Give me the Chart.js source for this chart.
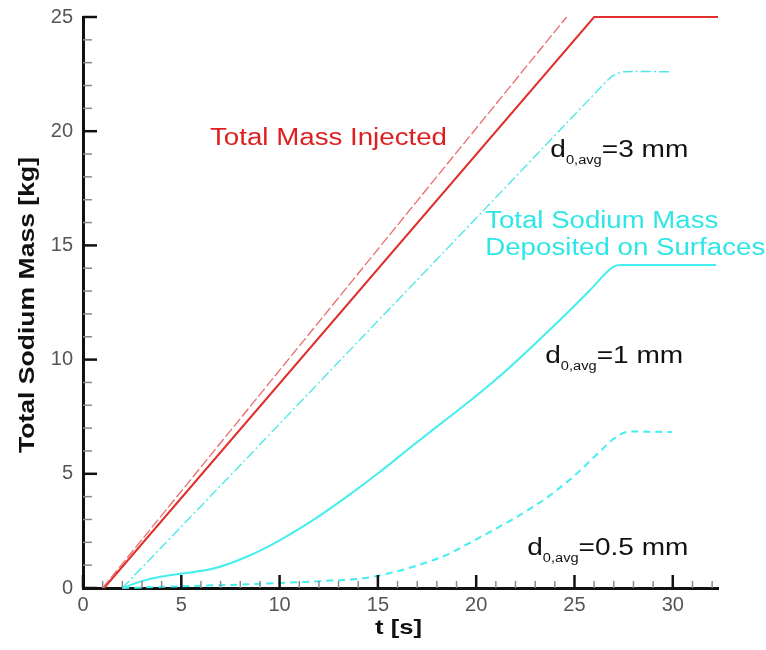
<!DOCTYPE html>
<html><head><meta charset="utf-8">
<script src="https://cdn.jsdelivr.net/npm/chart.js@4.4.1/dist/chart.umd.min.js"></script>
<style>html,body{margin:0;padding:0;background:#fff;overflow:hidden}canvas{display:block}</style>
</head><body>
<canvas id="c" width="766" height="650"></canvas>
<script>
// ---- data ----
const xRange = [0, 32.3];
const yRange = [0, 25];
const injectedT  = [1.07, 26.0, 32.3];
const injectedM  = [0, 25, 25];
const injected2T = [1.0, 24.6];
const injected2M = [0, 25.0];
const dep3T = [2.0, 7.3, 14.06, 18.9, 26.2, 26.9, 27.5, 29.9];
const dep3M = [0, 4.75, 10.85, 15.2, 21.8, 22.4, 22.6, 22.6];
const dep1T = [2.0, 3.0, 4.0, 4.94, 6.63, 8.33, 10.03, 11.72, 13.42, 15.11, 16.81, 18.5, 19.69, 21.56, 24.1, 25.8, 26.99, 27.4, 32.2];
const dep1M = [0, 0.3, 0.5, 0.62, 0.85, 1.37, 2.1, 2.98, 4.0, 5.09, 6.26, 7.4, 8.2, 9.55, 11.6, 13.05, 14.07, 14.14, 14.14];
const dep05T = [2.0, 4.0, 6.0, 8.0, 10.0, 12.0, 14.0, 15.1, 16.2, 17.3, 18.5, 19.5, 20.8, 22.0, 23.2, 24.2, 25.1, 26.2, 27.1, 27.8, 29.95];
const dep05M = [0, 0.05, 0.1, 0.15, 0.22, 0.3, 0.4, 0.55, 0.78, 1.07, 1.45, 1.9, 2.5, 3.08, 3.72, 4.35, 5.0, 5.9, 6.6, 6.85, 6.83];
const xTitle = 't [s]';
const yTitle = 'Total Sodium Mass [kg]';

const pts = (t, m) => t.map((v, i) => ({x: v, y: m[i]}));

// annotations positioned in data coordinates
const notes = [
  {t: 6.46, m: 19.4, w: 237, color: '#dd1f1f', parts: [['Total Mass Injected', 23, 0]]},
  {t: 23.77, m: 18.87, w: 138, color: '#111', parts: [['d', 23, 0], ['0,avg', 12, 7], ['=3 mm', 23, 0]]},
  {t: 20.46, m: 15.76, w: 233, color: '#2ee6e6', parts: [['Total Sodium Mass', 23, 0]]},
  {t: 20.46, m: 14.58, w: 280, color: '#2ee6e6', parts: [['Deposited on Surfaces', 23, 0]]},
  {t: 23.51, m: 9.85, w: 138, color: '#111', parts: [['d', 23, 0], ['0,avg', 12, 7], ['=1 mm', 23, 0]]},
  {t: 22.6, m: 1.44, w: 161, color: '#111', parts: [['d', 23, 0], ['0,avg', 12, 7], ['=0.5 mm', 23, 0]]}
];

const FONT = '"Liberation Sans", Arial, sans-serif';

function drawFit(ctx, parts, x, yb, width, color, weight) {
  ctx.save();
  ctx.fillStyle = color;
  ctx.textBaseline = 'alphabetic';
  ctx.textAlign = 'left';
  let nat = 0;
  for (const [s, sz] of parts) { ctx.font = `${weight||''} ${sz}px ${FONT}`; nat += ctx.measureText(s).width; }
  const k = width / nat;
  ctx.translate(x, yb);
  ctx.scale(k, 1);
  let cx = 0;
  for (const [s, sz, dy] of parts) {
    ctx.font = `${weight||''} ${sz}px ${FONT}`;
    ctx.fillText(s, cx, dy);
    cx += ctx.measureText(s).width;
  }
  ctx.restore();
}

const decor = {
  id: 'decor',
  afterDraw(chart) {
    const {ctx, scales: {x, y}} = chart;
    ctx.save();
    ctx.lineCap = 'butt';
    for (let v = Math.ceil(xRange[0]); v <= xRange[1]; v++) {
      const px = x.getPixelForValue(v), major = v % 5 === 0;
      ctx.strokeStyle = major ? '#111' : '#8a8a8a';
      ctx.lineWidth = major ? 2.5 : 1.5;
      ctx.beginPath(); ctx.moveTo(px, y.bottom); ctx.lineTo(px, y.bottom - (major ? 13 : 7)); ctx.stroke();
    }
    for (let v = yRange[0]; v <= yRange[1]; v++) {
      const py = y.getPixelForValue(v), major = v % 5 === 0;
      ctx.strokeStyle = major ? '#111' : '#8a8a8a';
      ctx.lineWidth = major ? 2.5 : 1.5;
      ctx.beginPath(); ctx.moveTo(x.left, py); ctx.lineTo(x.left + (major ? 14 : 9), py); ctx.stroke();
    }
    ctx.restore();
    for (const n of notes) {
      drawFit(ctx, n.parts, x.getPixelForValue(n.t), y.getPixelForValue(n.m), n.w, n.color, '');
    }
    // axis titles
    drawFit(ctx, [[xTitle, 21, 0]], 375, 634, 47, '#111', 'bold');
    ctx.save();
    ctx.translate(34, 305);
    ctx.rotate(-Math.PI / 2);
    drawFit(ctx, [[yTitle, 22, 0]], -148, 0, 296, '#111', 'bold');
    ctx.restore();
  }
};

new Chart(document.getElementById('c'), {
  type: 'scatter',
  data: {
    datasets: [
      {data: pts(injected2T, injected2M), borderColor: '#ea6a6a', borderWidth: 1.3, borderDash: [10, 3]},
      {data: pts(injectedT, injectedM), borderColor: '#e0302e', borderWidth: 2},
      {data: pts(dep3T, dep3M), borderColor: '#4ee8e8', borderWidth: 1.4, borderDash: [10, 3, 2, 3], tension: 0.2},
      {data: pts(dep1T, dep1M), borderColor: '#44eeee', borderWidth: 2, cubicInterpolationMode: 'monotone'},
      {data: pts(dep05T, dep05M), borderColor: '#44eeee', borderWidth: 2, borderDash: [7, 5], cubicInterpolationMode: 'monotone'}
    ].map(d => Object.assign({showLine: true, pointRadius: 0, clip: 4, fill: false}, d))
  },
  options: {
    responsive: false,
    animation: false,
    devicePixelRatio: 1,
    layout: {padding: {left: 0, top: 17, right: 48, bottom: 0}},
    plugins: {legend: {display: false}, tooltip: {enabled: false}},
    scales: {
      x: {
        type: 'linear', min: xRange[0], max: xRange[1],
        grid: {display: false},
        border: {display: true, color: '#111', width: 3},
        ticks: {stepSize: 5, includeBounds: false, color: '#555', padding: -3, font: {family: FONT, size: 20}, maxRotation: 0},
        afterFit: s => { s.height = 62; }
      },
      y: {
        type: 'linear', min: yRange[0], max: yRange[1],
        grid: {display: false},
        border: {display: true, color: '#111', width: 3},
        ticks: {stepSize: 5, color: '#555', padding: 2, font: {family: FONT, size: 20}},
        afterFit: s => { s.width = 83; }
      }
    }
  },
  plugins: [decor]
});
</script>
</body></html>
